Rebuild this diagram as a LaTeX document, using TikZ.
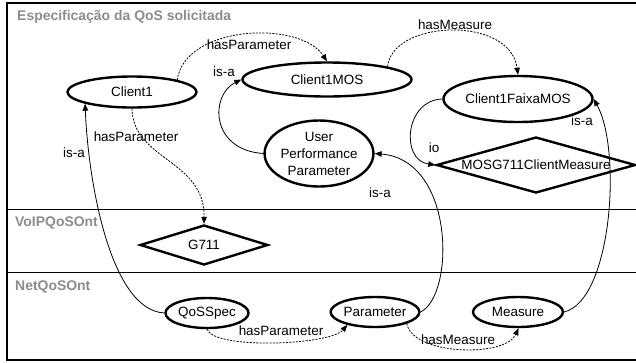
\documentclass[tikz,border=0pt]{standalone}
\usepackage{fontspec}
\setmainfont{Liberation Sans}
\usetikzlibrary{shapes.geometric,arrows.meta}

\begin{document}
\begin{tikzpicture}[x=1bp,y=-1bp,
  font=\fontsize{13.5}{17}\selectfont,
  ell/.style={ellipse,draw,line width=2.4bp,inner sep=0pt,align=center},
  dia/.style={diamond,draw,line width=2.4bp,inner sep=0pt},
  link/.style={line width=0.8bp,-{Triangle[length=7bp,width=5.5bp]}},
  dlink/.style={link,dash pattern=on 2bp off 1.3bp},
  lbl/.style={inner sep=0pt},
  sect/.style={text=black!45,font=\fontsize{14}{16}\selectfont\bfseries,anchor=west,inner sep=0pt}
]
\useasboundingbox (0,0) rectangle (636,362);

% frame and the three bands
\draw[line width=1.6bp] (640,3) -- (7,3) -- (7,360) -- (640,360);
\draw[line width=1bp] (7,209) -- (640,209) (7,272) -- (640,272);
\node[sect] (tq) at (17,17) {Especificação da QoS solicitada};
\node[sect] (tv) at (15,223) {VoIPQoSOnt};
\node[sect] (tn) at (15,287) {NetQoSOnt};

% individuals and classes
\node[ell,minimum width=129bp,minimum height=31bp] (c1) at (132,92) {Client1};
\node[ell,minimum width=169bp,minimum height=34bp] (mos) at (327,79.5) {Client1MOS};
\node[ell,minimum width=138bp,minimum height=46bp] (faixa) at (518,99) {Client1FaixaMOS};
\node[ell,minimum width=106bp,minimum height=66bp] (upp) at (319,153.5) {User\\Performance\\Parameter};
\node[dia,minimum width=199bp,minimum height=56bp,shape aspect=3.55] (mosd) at (536,165) {MOSG711ClientMeasure};
\node[dia,minimum width=128bp,minimum height=40bp,shape aspect=3.2] (g711) at (204,245) {G711};
\node[ell,minimum width=83bp,minimum height=30bp] (qos) at (207,313) {QoSSpec};
\node[ell,minimum width=85bp,minimum height=30bp] (par) at (375,312) {Parameter};
\node[ell,minimum width=90bp,minimum height=30bp] (meas) at (518,312) {Measure};

% object properties (dashed)
\draw[dlink] (c1.15) .. controls (185,25) and (300,20) .. (mos.north);
\draw[dlink] (mos.12) .. controls (392,20) and (510,15) .. (faixa.north);
\draw[dlink] (c1.south) .. controls (133,160) and (205,160) .. (g711.north);
\draw[dlink] (qos.south) .. controls (215,350) and (330,345) .. (par.205);
\draw[dlink] (par.-20) .. controls (412,355) and (505,358) .. (meas.-88);

% subclass and instance links
\draw[link] (upp.west) .. controls (210,150) and (210,95) .. (mos.west);
\draw[link] (qos.west) .. controls (110,310) and (88,180) .. (c1.194);
\draw[link] (par.east) .. controls (455,295) and (455,160) .. (upp.east);
\draw[link] (meas.east) .. controls (612,300) and (622,150) .. (faixa.east);
\draw[link] (faixa.west) .. controls (405,100) and (400,160) .. (mosd.west);

% link labels
\node[lbl] (l1) at (249,45) {hasParameter};
\node[lbl] (l2) at (224,72) {is-a};
\node[lbl] (l3) at (455,25) {hasMeasure};
\node[lbl] (l4) at (136,137) {hasParameter};
\node[lbl] (l5) at (74,153) {is-a};
\node[lbl] (l6) at (434,148) {io};
\node[lbl] (l7) at (582,121) {is-a};
\node[lbl] (l8) at (380,193) {is-a};
\node[lbl] (l9) at (281,331) {hasParameter};
\node[lbl] (l10) at (458,340) {hasMeasure};
\end{tikzpicture}
\end{document}
